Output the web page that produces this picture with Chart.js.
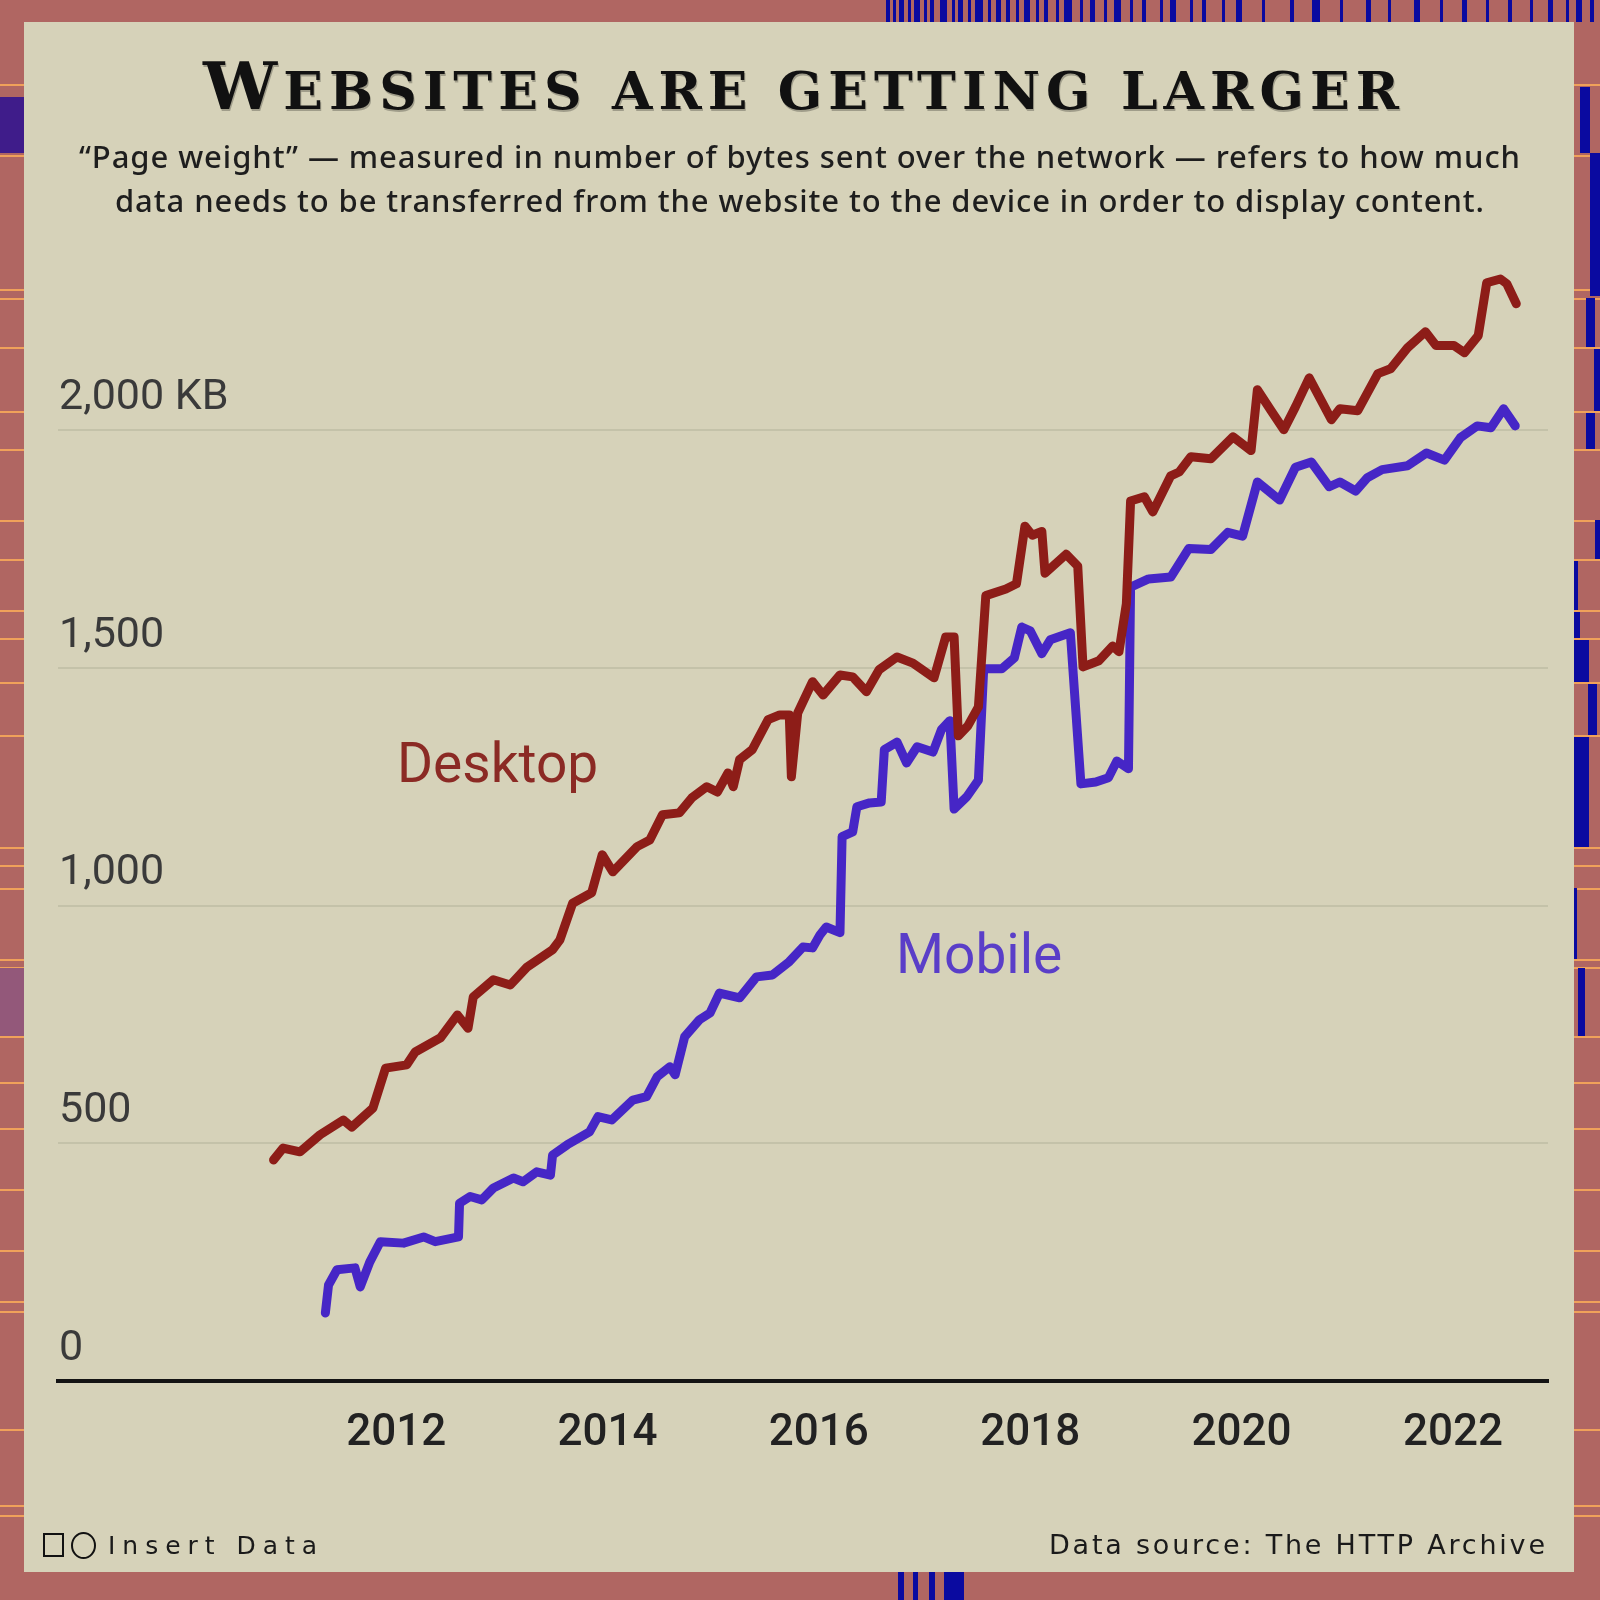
<!DOCTYPE html>
<html>
<head>
<meta charset="utf-8">
<script src="https://cdn.jsdelivr.net/npm/chart.js@4.4.1/dist/chart.umd.min.js"></script>
<style>
  html, body { margin:0; padding:0; }
  body { width:1600px; height:1600px; overflow:hidden; position:relative; background:#b06662; }
  .abs { position:absolute; }
  #panel { left:24px; top:22px; width:1550px; height:1550px; background:#d6d2b9; }
  #chartCanvas { position:absolute; left:0; top:0; width:1600px; height:1600px; z-index:2; }
  .txt { position:absolute; white-space:nowrap; line-height:1; z-index:3; }
  #title { font-family:"DejaVu Serif", serif; font-weight:bold; color:#111; font-size:66px; line-height:66px; text-shadow:1px 2px 0 rgba(0,0,0,0.25); }
  #title .sm { font-size:52px; text-transform:uppercase; }
  .sub { font-family:"Noto Sans", "Open Sans", sans-serif; font-weight:500; font-size:31px; color:#1e1e1e; }
  .foot { font-family:"DejaVu Sans", sans-serif; color:#1a1a1a; }
  .ann { font-family:Roboto, sans-serif; font-size:55px; }
</style>
</head>
<body>
<div id="deco"></div>
<div id="panel" class="abs"></div>
<canvas id="chartCanvas" width="1600" height="1600"></canvas>

<div id="title" class="txt" style="left:203px; top:53px;" data-w="1196"><span>W</span><span class="sm">ebsites are getting larger</span></div>
<div class="txt sub" style="left:79px; top:141px;" data-w="1441">“Page weight” — measured in number of bytes sent over the network — refers to how much</div>
<div class="txt sub" style="left:115px; top:185px;" data-w="1369">data needs to be transferred from the website to the device in order to display content.</div>

<div class="txt ann" style="left:397px; top:736px; color:#8b2a24;">Desktop</div>
<div class="txt ann" style="left:896px; top:927px; color:#5a3ec8;">Mobile</div>

<div class="abs" style="left:43px; top:1533px; width:17px; height:20px; border:2px solid #111; z-index:3;"></div>
<div class="abs" style="left:71px; top:1532px; width:21px; height:23px; border:2px solid #111; border-radius:50%; z-index:3;"></div>
<div class="txt foot" style="left:108px; top:1533px; font-size:25px;" data-w="209">Insert Data</div>
<div class="txt foot" style="left:1049px; top:1531px; font-size:27px;" data-w="496">Data source: The HTTP Archive</div>

<script>
// ---- data ----
const desktopYears = [2010.84, 2010.93, 2011.09, 2011.28, 2011.50, 2011.58, 2011.78, 2011.90, 2012.10, 2012.18, 2012.42, 2012.58, 2012.68, 2012.73, 2012.92, 2013.08, 2013.24, 2013.48, 2013.55, 2013.67, 2013.85, 2013.95, 2014.05, 2014.28, 2014.40, 2014.52, 2014.68, 2014.80, 2014.94, 2015.04, 2015.14, 2015.19, 2015.25, 2015.37, 2015.52, 2015.63, 2015.72, 2015.74, 2015.80, 2015.94, 2016.04, 2016.20, 2016.32, 2016.45, 2016.57, 2016.74, 2016.89, 2017.09, 2017.20, 2017.28, 2017.32, 2017.41, 2017.51, 2017.58, 2017.77, 2017.87, 2017.95, 2018.02, 2018.11, 2018.14, 2018.34, 2018.45, 2018.50, 2018.65, 2018.78, 2018.84, 2018.91, 2018.95, 2019.08, 2019.16, 2019.33, 2019.41, 2019.52, 2019.71, 2019.92, 2020.09, 2020.15, 2020.28, 2020.40, 2020.51, 2020.64, 2020.85, 2020.93, 2021.10, 2021.29, 2021.41, 2021.57, 2021.74, 2021.84, 2022.01, 2022.11, 2022.24, 2022.32, 2022.45, 2022.51, 2022.60];
const desktopKB = [465, 490, 482, 518, 549, 534, 574, 658, 665, 692, 722, 770, 742, 808, 844, 833, 871, 907, 928, 1005, 1027, 1107, 1071, 1124, 1138, 1191, 1195, 1227, 1250, 1239, 1279, 1250, 1307, 1328, 1391, 1401, 1401, 1271, 1405, 1471, 1443, 1485, 1481, 1450, 1496, 1523, 1510, 1479, 1565, 1565, 1357, 1378, 1418, 1652, 1666, 1677, 1798, 1779, 1787, 1699, 1739, 1714, 1502, 1515, 1546, 1534, 1635, 1851, 1860, 1828, 1904, 1912, 1944, 1940, 1986, 1957, 2085, 2041, 2001, 2049, 2110, 2022, 2045, 2041, 2119, 2129, 2173, 2207, 2178, 2178, 2163, 2199, 2310, 2318, 2308, 2266];
const mobileYears = [2011.33, 2011.36, 2011.44, 2011.61, 2011.66, 2011.75, 2011.85, 2012.07, 2012.26, 2012.37, 2012.59, 2012.60, 2012.70, 2012.81, 2012.92, 2013.11, 2013.20, 2013.33, 2013.46, 2013.48, 2013.62, 2013.83, 2013.91, 2014.04, 2014.24, 2014.37, 2014.47, 2014.59, 2014.64, 2014.73, 2014.87, 2014.97, 2015.06, 2015.25, 2015.41, 2015.56, 2015.72, 2015.85, 2015.94, 2016.01, 2016.07, 2016.20, 2016.22, 2016.32, 2016.36, 2016.48, 2016.59, 2016.62, 2016.74, 2016.83, 2016.93, 2017.08, 2017.16, 2017.24, 2017.28, 2017.40, 2017.51, 2017.56, 2017.73, 2017.85, 2017.92, 2018.00, 2018.11, 2018.19, 2018.38, 2018.48, 2018.62, 2018.74, 2018.82, 2018.93, 2018.95, 2019.12, 2019.33, 2019.50, 2019.71, 2019.87, 2020.01, 2020.15, 2020.36, 2020.51, 2020.66, 2020.83, 2020.93, 2021.08, 2021.19, 2021.33, 2021.57, 2021.75, 2021.92, 2022.07, 2022.23, 2022.36, 2022.48, 2022.59];
const mobileKB = [143, 202, 234, 238, 198, 250, 293, 290, 303, 293, 303, 374, 388, 381, 406, 427, 419, 440, 433, 475, 497, 524, 556, 549, 591, 598, 640, 661, 644, 724, 760, 774, 816, 806, 850, 854, 882, 913, 911, 938, 955, 943, 1145, 1155, 1208, 1216, 1218, 1328, 1344, 1300, 1334, 1323, 1370, 1389, 1203, 1229, 1264, 1498, 1498, 1521, 1586, 1578, 1530, 1559, 1574, 1256, 1260, 1269, 1304, 1288, 1670, 1687, 1691, 1751, 1749, 1785, 1777, 1891, 1853, 1922, 1933, 1881, 1891, 1872, 1900, 1917, 1925, 1952, 1937, 1984, 2009, 2005, 2045, 2009];
const xTickYears = [2012, 2014, 2016, 2018, 2020, 2022];
const yTickValues = [0, 500, 1000, 1500, 2000];
const yTickLabels = ['0', '500', '1,000', '1,500', '2,000 KB'];

// ---- decorative frame (not data) ----
(function buildDeco() {
  const deco = document.getElementById('deco');
  function box(l, t, w, h, c) {
    const d = document.createElement('div');
    d.className = 'abs';
    d.style.cssText = `left:${l}px;top:${t}px;width:${w}px;height:${h}px;background:${c};`;
    deco.appendChild(d);
  }
  const orangeY = [84, 155, 289, 298, 347, 411, 449, 520, 559, 610, 638, 682, 735, 847, 865, 888, 959, 967, 1036, 1082, 1128, 1189, 1250, 1301, 1311, 1429, 1505, 1515];
  orangeY.forEach(y => box(0, y, 1600, 2, '#f0a15a'));
  box(0, 97, 24, 56, '#3f1c8a');
  box(0, 968, 24, 68, '#93587a');
  const blue = '#0a0aa0';
  [[1580,87,10,66],[1590,153,10,143],[1586,298,9,49],[1594,349,6,62],[1586,413,9,36],[1595,520,5,39],
   [1574,561,4,49],[1574,612,6,26],[1574,640,15,42],[1588,684,9,51],[1574,737,15,110],[1574,888,3,71],[1578,968,7,68]]
   .forEach(r => box(r[0], r[1], r[2], r[3], blue));
  const top = [[886,4],[893,3],[899,5],[908,3],[914,6],[924,3],[930,4],[940,7],[952,3],[958,5],[968,3],[975,8],[988,3],[996,5],[1006,4],[1016,3],[1024,6],[1036,3],[1044,4],[1056,3],[1064,8],[1080,3],[1090,5],[1104,3],[1114,7],[1130,3],[1142,4],[1160,3],[1170,6],[1190,3],[1202,4],[1222,3],[1236,6],[1262,3],[1290,4],[1312,8],[1340,3],[1366,5],[1388,3],[1414,6],[1440,3],[1462,5],[1486,3],[1508,4],[1530,3],[1548,5],[1566,3],[1576,6],[1590,4]];
  top.forEach(b => box(b[0], 0, b[1], 22, blue));
  [[898,6],[913,5],[929,6],[944,20]].forEach(b => box(b[0], 1572, b[1], 28, blue));
})();

// ---- chart ----
const ctx = document.getElementById('chartCanvas').getContext('2d');
new Chart(ctx, {
  type: 'line',
  data: {
    datasets: [
      {
        label: 'Desktop',
        data: desktopYears.map((x, i) => ({ x: x, y: desktopKB[i] })),
        borderColor: '#8d1d18',
        borderWidth: 9,
        pointRadius: 0,
        tension: 0,
        fill: false,
        borderJoinStyle: 'round',
        borderCapStyle: 'round'
      },
      {
        label: 'Mobile',
        data: mobileYears.map((x, i) => ({ x: x, y: mobileKB[i] })),
        borderColor: '#4626c6',
        borderWidth: 9,
        pointRadius: 0,
        tension: 0,
        fill: false,
        borderJoinStyle: 'round',
        borderCapStyle: 'round'
      }
    ]
  },
  options: {
    responsive: false,
    animation: false,
    devicePixelRatio: 1,
    layout: { padding: { left: 58, right: 52, top: 240, bottom: 119 } },
    plugins: { legend: { display: false }, tooltip: { enabled: false }, title: { display: false } },
    scales: {
      x: {
        type: 'linear',
        min: 2008.8,
        max: 2022.9,
        afterBuildTicks: s => { s.ticks = xTickYears.map(v => ({ value: v })); },
        afterFit: s => { s.height = 100; },
        grid: { display: false, drawTicks: false },
        border: { display: true, color: '#141414', width: 4 },
        ticks: {
          padding: 27,
          autoSkip: false,
          maxRotation: 0,
          color: '#222',
          font: { family: 'Roboto', size: 44, weight: '500' },
          callback: v => String(v)
        }
      },
      y: {
        min: 0,
        max: 2400,
        afterBuildTicks: s => { s.ticks = yTickValues.map(v => ({ value: v })); },
        afterFit: s => { s.width = 0; },
        grid: { color: '#c4c2a9', lineWidth: 2, drawTicks: false },
        border: { display: false },
        ticks: {
          mirror: true,
          padding: 1,
          labelOffset: -32,
          color: '#3a3a3a',
          font: { family: 'Roboto', size: 43 },
          callback: (v, i) => yTickLabels[i]
        }
      }
    }
  }
});

// ---- fit text widths with letter spacing ----
function fitAll() {
  document.querySelectorAll('[data-w]').forEach(el => {
    const target = parseFloat(el.getAttribute('data-w'));
    el.style.letterSpacing = '0px';
    const w = el.getBoundingClientRect().width;
    const n = el.textContent.length;
    const ls = (target - w) / (n - 1);
    el.style.letterSpacing = ls + 'px';
  });
}
fitAll();
if (document.fonts && document.fonts.ready) document.fonts.ready.then(fitAll);
</script>
</body>
</html>
